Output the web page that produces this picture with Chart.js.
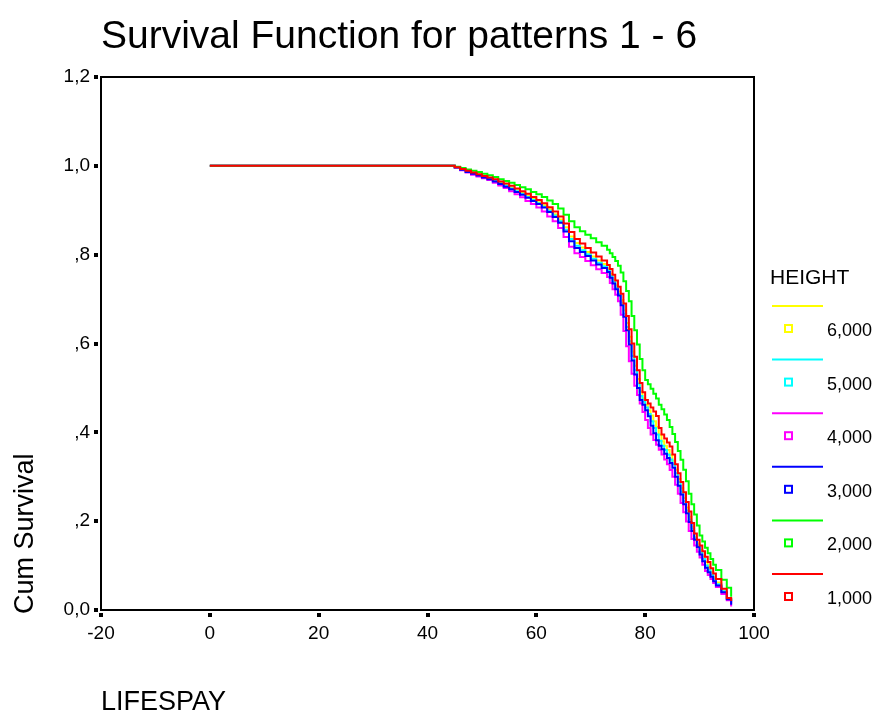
<!DOCTYPE html>
<html>
<head>
<meta charset="utf-8">
<script src="https://cdn.jsdelivr.net/npm/chart.js@4/dist/chart.umd.min.js"></script>
<style>
  html, body { margin: 0; padding: 0; background: #ffffff; }
  #wrap { width: 883px; height: 713px; position: relative; }
</style>
</head>
<body>
<div id="wrap"><canvas id="c" width="883" height="713"></canvas></div>
<script>
// ---- data ----
const chartTitle = 'Survival Function for patterns 1 - 6';
const xTitle = 'LIFESPAY';
const yTitle = 'Cum Survival';
const legendTitle = 'HEIGHT';

const ages = [0,
  45, 46, 47, 48, 49, 50, 51, 52, 53, 54, 55, 56, 57, 58, 59, 60, 61, 62, 63, 64,
  65, 66, 67, 68, 69, 70, 71, 72, 73,
  73.5, 74, 74.5, 75, 75.5, 76, 76.5, 77, 77.5, 78, 78.5, 79, 79.5, 80, 80.5, 81, 81.5, 82, 82.5, 83,
  83.5, 84, 84.5, 85, 85.5, 86, 86.5, 87, 87.5, 88, 88.5, 89, 89.5, 90, 90.5, 91, 91.5, 92, 92.5, 93,
  94, 95, 95.8];

const height1000 = [1,
  0.997, 0.993, 0.989, 0.985, 0.981, 0.977, 0.974, 0.970, 0.965, 0.960, 0.955, 0.949, 0.943, 0.937,
  0.930, 0.923, 0.916, 0.907, 0.897, 0.886, 0.870, 0.851, 0.835, 0.825, 0.815, 0.805, 0.796, 0.787, 0.777,
  0.768, 0.755, 0.742, 0.728, 0.712, 0.690, 0.662, 0.632, 0.600, 0.570, 0.540, 0.511, 0.490, 0.473,
  0.465, 0.456, 0.447, 0.437, 0.410, 0.395, 0.386, 0.377, 0.368, 0.350, 0.328, 0.308, 0.288, 0.265,
  0.243, 0.222, 0.196, 0.172, 0.158, 0.145, 0.132, 0.120, 0.108, 0.094, 0.082, 0.070,
  0.048, 0.027, 0.020];

const height2000 = [1,
  0.998, 0.995, 0.992, 0.989, 0.986, 0.982, 0.979, 0.975, 0.970, 0.966, 0.962, 0.957, 0.952, 0.947,
  0.941, 0.936, 0.930, 0.922, 0.914, 0.904, 0.890, 0.875, 0.862, 0.853, 0.845, 0.837, 0.828, 0.820, 0.811,
  0.803, 0.795, 0.786, 0.775, 0.760, 0.740, 0.718, 0.695, 0.662, 0.630, 0.598, 0.565, 0.540, 0.518,
  0.508, 0.498, 0.487, 0.476, 0.462, 0.452, 0.440, 0.428, 0.412, 0.396, 0.378, 0.358, 0.338, 0.316,
  0.290, 0.262, 0.238, 0.215, 0.190, 0.168, 0.154, 0.140, 0.128, 0.115, 0.102, 0.090,
  0.068, 0.050, 0.030];

const height3000 = [1,
  0.996, 0.991, 0.986, 0.982, 0.978, 0.974, 0.970, 0.965, 0.959, 0.953, 0.947, 0.941, 0.935, 0.928,
  0.921, 0.914, 0.906, 0.896, 0.885, 0.872, 0.852, 0.830, 0.815, 0.806, 0.797, 0.787, 0.778, 0.770, 0.761,
  0.748, 0.735, 0.722, 0.708, 0.686, 0.660, 0.630, 0.598, 0.562, 0.530, 0.500, 0.473, 0.462, 0.450,
  0.436, 0.415, 0.398, 0.382, 0.370, 0.362, 0.352, 0.342, 0.331, 0.320, 0.300, 0.280, 0.260, 0.238,
  0.218, 0.198, 0.178, 0.158, 0.142, 0.125, 0.110, 0.095, 0.085, 0.075, 0.065, 0.055,
  0.040, 0.024, 0.012];

const height4000 = [1,
  0.996, 0.990, 0.985, 0.980, 0.976, 0.972, 0.968, 0.962, 0.956, 0.950, 0.943, 0.936, 0.929, 0.921,
  0.914, 0.906, 0.897, 0.886, 0.875, 0.860, 0.840, 0.818, 0.803, 0.795, 0.786, 0.776, 0.767, 0.759, 0.750,
  0.736, 0.722, 0.710, 0.695, 0.665, 0.628, 0.594, 0.560, 0.532, 0.505, 0.484, 0.465, 0.446, 0.428,
  0.410, 0.395, 0.383, 0.372, 0.361, 0.350, 0.339, 0.328, 0.315, 0.300, 0.282, 0.262, 0.241, 0.220,
  0.199, 0.178, 0.160, 0.145, 0.131, 0.118, 0.102, 0.088, 0.079, 0.070, 0.061, 0.052,
  0.036, 0.022, 0.008];

const height5000 = [1,
  0.996, 0.991, 0.987, 0.983, 0.979, 0.975, 0.971, 0.966, 0.960, 0.955, 0.949, 0.943, 0.937, 0.930,
  0.923, 0.916, 0.908, 0.899, 0.888, 0.875, 0.856, 0.835, 0.820, 0.810, 0.801, 0.791, 0.782, 0.774, 0.765,
  0.752, 0.739, 0.726, 0.712, 0.692, 0.667, 0.637, 0.605, 0.572, 0.540, 0.510, 0.482, 0.469, 0.456,
  0.441, 0.425, 0.410, 0.395, 0.381, 0.370, 0.360, 0.350, 0.339, 0.328, 0.308, 0.288, 0.266, 0.245,
  0.224, 0.204, 0.183, 0.162, 0.146, 0.130, 0.115, 0.100, 0.090, 0.080, 0.069, 0.058,
  0.042, 0.025, 0.014];

const height6000 = [1,
  0.997, 0.992, 0.988, 0.984, 0.980, 0.976, 0.972, 0.968, 0.962, 0.957, 0.951, 0.945, 0.939, 0.933,
  0.926, 0.918, 0.911, 0.902, 0.891, 0.879, 0.862, 0.841, 0.826, 0.816, 0.806, 0.796, 0.787, 0.779, 0.769,
  0.757, 0.744, 0.731, 0.717, 0.698, 0.675, 0.646, 0.615, 0.582, 0.550, 0.520, 0.492, 0.477, 0.462,
  0.450, 0.438, 0.425, 0.412, 0.395, 0.380, 0.370, 0.360, 0.349, 0.336, 0.316, 0.295, 0.274, 0.252,
  0.231, 0.210, 0.187, 0.165, 0.150, 0.135, 0.121, 0.108, 0.097, 0.085, 0.073, 0.062,
  0.044, 0.026, 0.018];

const xTickValues = [-20, 0, 20, 40, 60, 80, 100];
const xTickLabels = ['-20', '0', '20', '40', '60', '80', '100'];
const yTickValues = [0, 0.2, 0.4, 0.6, 0.8, 1.0, 1.2];
const yTickLabels = ['0,0', ',2', ',4', ',6', ',8', '1,0', '1,2'];

// legend order top to bottom
const legendLabels = ['6,000', '5,000', '4,000', '3,000', '2,000', '1,000'];
const legendColors = ['#ffff00', '#00ffff', '#ff00ff', '#0000ff', '#00ff00', '#ff0000'];

// ---- build chart ----
function pts(arr) { return ages.map((a, i) => ({ x: a, y: arr[i] })); }

// dataset 0 is drawn on top: red first
const seriesOrder = [
  { label: '1,000', data: height1000, color: '#ff0000' },
  { label: '2,000', data: height2000, color: '#00ff00' },
  { label: '3,000', data: height3000, color: '#0000ff' },
  { label: '4,000', data: height4000, color: '#ff00ff' },
  { label: '5,000', data: height5000, color: '#00ffff' },
  { label: '6,000', data: height6000, color: '#ffff00' }
];

const FONT = 'Arial, "Liberation Sans", Helvetica, sans-serif';

const decor = {
  id: 'decor',
  afterDraw(chart) {
    const ctx = chart.ctx;
    const a = chart.chartArea;
    const xs = chart.scales.x, ys = chart.scales.y;
    ctx.save();
    // frame
    ctx.strokeStyle = '#000';
    ctx.lineWidth = 2;
    ctx.strokeRect(a.left, a.top, a.right - a.left, a.bottom - a.top);
    // tick squares
    ctx.fillStyle = '#000';
    xTickValues.forEach(v => {
      const px = xs.getPixelForValue(v);
      ctx.fillRect(Math.round(px) - 2, a.bottom + 3, 4, 4);
    });
    yTickValues.forEach(v => {
      const py = ys.getPixelForValue(v);
      ctx.fillRect(a.left - 7, Math.round(py) - 2, 4, 4);
    });
    // title
    ctx.fillStyle = '#000';
    ctx.textBaseline = 'alphabetic';
    ctx.textAlign = 'left';
    ctx.font = '39px ' + FONT;
    ctx.fillText(chartTitle, 101, 48);
    // x title
    ctx.font = '27px ' + FONT;
    ctx.textBaseline = 'middle';
    ctx.fillText(xTitle, 101, 703);
    // y title
    ctx.save();
    ctx.translate(26, 614);
    ctx.rotate(-Math.PI / 2);
    ctx.textAlign = 'left';
    ctx.fillText(yTitle, 0, 0);
    ctx.restore();
    // legend
    ctx.font = '21px ' + FONT;
    ctx.textAlign = 'left';
    ctx.textBaseline = 'middle';
    ctx.fillText(legendTitle, 770, 278);
    ctx.font = '18px ' + FONT;
    legendLabels.forEach((lab, i) => {
      const ly = 306 + i * 53.6;
      ctx.strokeStyle = legendColors[i];
      ctx.lineWidth = 2;
      ctx.beginPath();
      ctx.moveTo(772, ly);
      ctx.lineTo(823, ly);
      ctx.stroke();
      ctx.strokeRect(785, ly + 19, 7, 7);
      ctx.fillStyle = '#000';
      ctx.fillText(lab, 827, ly + 25);
    });
    ctx.restore();
  }
};

new Chart(document.getElementById('c'), {
  type: 'line',
  data: {
    datasets: seriesOrder.map(s => ({
      label: s.label,
      data: pts(s.data),
      borderColor: s.color,
      backgroundColor: s.color,
      borderWidth: 2,
      pointRadius: 0,
      stepped: true,
      tension: 0,
      fill: false
    }))
  },
  options: {
    responsive: false,
    animation: false,
    devicePixelRatio: 1,
    layout: { padding: { top: 77, right: 129, left: 0, bottom: 0 } },
    plugins: { legend: { display: false }, title: { display: false }, tooltip: { enabled: false } },
    scales: {
      x: {
        type: 'linear', min: -20, max: 100,
        afterFit(s) { s.height = 103; },
        afterBuildTicks(s) { s.ticks = xTickValues.map(v => ({ value: v })); },
        grid: { display: false, drawTicks: false },
        border: { display: false },
        ticks: {
          padding: 12, color: '#000', font: { size: 19, family: FONT },
          maxRotation: 0, autoSkip: false,
          callback: (v, i) => xTickLabels[i]
        }
      },
      y: {
        type: 'linear', min: 0, max: 1.2,
        afterFit(s) { s.width = 101; },
        afterBuildTicks(s) { s.ticks = yTickValues.map(v => ({ value: v })); },
        grid: { display: false, drawTicks: false },
        border: { display: false },
        ticks: {
          padding: 11, color: '#000', font: { size: 19, family: FONT },
          autoSkip: false,
          callback: (v, i) => yTickLabels[i]
        }
      }
    }
  },
  plugins: [decor]
});
</script>
</body>
</html>
